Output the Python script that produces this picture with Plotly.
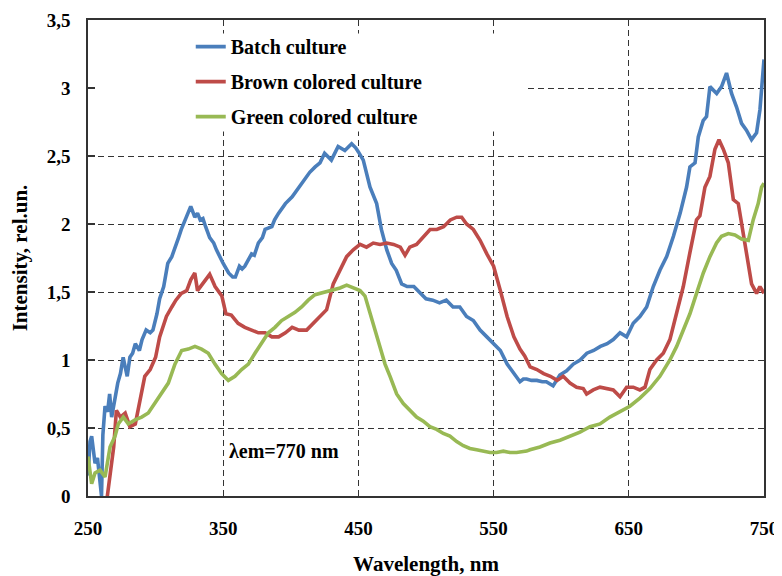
import plotly.graph_objects as go

# ---------------- data ----------------
batch_wl = [250, 251.5, 252.7, 254, 255.2, 257, 258.9, 260, 261, 262.6, 264.5, 266, 267.5, 270, 272, 274, 276, 277.5, 279, 281, 283, 285, 288, 290, 293, 296, 298, 301, 303, 306, 309, 312, 314, 317, 319, 323, 326, 329, 331, 333, 335, 337, 340, 343, 345, 350, 354, 357, 359, 362, 364, 366, 371, 373, 376, 379, 381, 386, 388, 391, 396, 401, 406, 410, 414, 418, 421.6, 425, 430, 435, 440, 445, 448, 450, 453.6, 458.6, 463.5, 467, 471, 474.6, 478, 482, 486, 491, 496, 500, 505, 510, 515, 520, 525, 530, 535, 540, 545, 550, 555, 560, 565, 569.5, 572, 574.4, 578, 582, 586, 589, 594, 597, 599, 604, 609, 614, 619, 624, 629, 634, 638.5, 643.5, 648.4, 653.3, 658.2, 663.2, 668.1, 673, 678, 683, 688, 692.7, 695.2, 699, 701.4, 705, 707.5, 710, 715, 718.6, 722.3, 726, 729.7, 733.4, 737, 740.8, 744.5, 747, 750]
batch_val = [0.15, 0.40, 0.44, 0.30, 0.24, 0.28, 0.12, 0.0, 0.45, 0.66, 0.62, 0.75, 0.58, 0.73, 0.83, 0.90, 1.02, 0.95, 0.88, 1.02, 1.05, 1.12, 1.07, 1.15, 1.22, 1.20, 1.22, 1.34, 1.45, 1.54, 1.71, 1.76, 1.81, 1.90, 1.96, 2.05, 2.13, 2.05, 2.08, 2.03, 2.04, 1.98, 1.90, 1.86, 1.81, 1.71, 1.64, 1.61, 1.61, 1.69, 1.67, 1.69, 1.78, 1.77, 1.86, 1.90, 1.96, 1.98, 2.03, 2.08, 2.15, 2.20, 2.27, 2.32, 2.38, 2.42, 2.45, 2.52, 2.47, 2.57, 2.54, 2.59, 2.56, 2.53, 2.47, 2.27, 2.15, 1.96, 1.81, 1.71, 1.66, 1.56, 1.54, 1.54, 1.49, 1.45, 1.44, 1.42, 1.44, 1.39, 1.39, 1.32, 1.29, 1.22, 1.17, 1.12, 1.07, 0.97, 0.90, 0.84, 0.86, 0.86, 0.85, 0.85, 0.84, 0.84, 0.81, 0.86, 0.89, 0.92, 0.97, 1.00, 1.05, 1.07, 1.10, 1.12, 1.15, 1.20, 1.17, 1.27, 1.32, 1.39, 1.54, 1.66, 1.76, 1.91, 2.08, 2.27, 2.42, 2.45, 2.64, 2.76, 2.79, 3.01, 2.96, 3.01, 3.11, 2.96, 2.86, 2.74, 2.69, 2.62, 2.67, 2.84, 3.21]

brown_wl = [263, 266, 269, 271, 274, 277.5, 281, 285, 288, 292, 296, 300, 303, 308, 312, 315, 319, 323, 326, 329, 331, 335, 340, 344, 349, 352, 356, 361, 366, 371, 376, 381, 386, 391, 396, 401, 406, 411.7, 416.7, 421.6, 426.5, 431.4, 436.4, 441.3, 446.2, 451.2, 456, 461, 466, 471, 476, 481, 484.5, 488, 493, 498, 503, 508, 513, 518, 522.7, 526.4, 530, 535, 540, 545, 550, 555, 560, 565, 569.5, 573, 577, 582, 587, 592, 597, 601.5, 606.5, 611.4, 616.3, 618.8, 623.7, 628.7, 633.6, 638.5, 643.5, 648.4, 653.3, 658.2, 662, 665.6, 670.6, 675.5, 680.4, 685.4, 690.3, 695.2, 700.1, 702.6, 706.3, 710, 713.7, 716.7, 719.9, 723.6, 727.3, 731, 734.7, 738.4, 740.8, 744.5, 747, 750]
brown_val = [-0.1, 0.15, 0.36, 0.63, 0.58, 0.61, 0.51, 0.53, 0.68, 0.88, 0.93, 1.02, 1.17, 1.32, 1.39, 1.44, 1.49, 1.51, 1.59, 1.64, 1.51, 1.56, 1.63, 1.54, 1.47, 1.34, 1.33, 1.27, 1.24, 1.22, 1.20, 1.20, 1.17, 1.17, 1.20, 1.24, 1.22, 1.22, 1.27, 1.32, 1.37, 1.56, 1.66, 1.76, 1.81, 1.85, 1.83, 1.86, 1.85, 1.86, 1.85, 1.83, 1.77, 1.83, 1.85, 1.91, 1.96, 1.96, 1.98, 2.03, 2.05, 2.05, 2.00, 1.96, 1.88, 1.78, 1.69, 1.51, 1.32, 1.17, 1.08, 1.03, 0.95, 0.93, 0.90, 0.88, 0.85, 0.88, 0.83, 0.80, 0.79, 0.75, 0.78, 0.80, 0.79, 0.78, 0.73, 0.80, 0.80, 0.78, 0.80, 0.93, 1.00, 1.05, 1.15, 1.34, 1.54, 1.79, 2.03, 2.06, 2.27, 2.35, 2.55, 2.62, 2.55, 2.45, 2.18, 2.15, 1.93, 1.74, 1.56, 1.49, 1.54, 1.49]

green_wl = [250, 251.5, 252.7, 255.2, 258.9, 262.6, 266.3, 270, 272.4, 276.1, 279.8, 284.8, 289.7, 294.6, 299.5, 304.5, 309.4, 314.3, 319.3, 324.2, 329.1, 334, 339, 343.9, 348.8, 353.8, 358.7, 363.6, 368.6, 373.5, 378.4, 383.4, 388.3, 393.2, 398.1, 403.1, 408, 412.9, 417.9, 421.6, 426.5, 431.4, 436.4, 441.3, 446.2, 451.2, 454.9, 458.6, 462.3, 466, 469.7, 473.4, 478.3, 483.2, 488.1, 493, 498, 502.9, 507.9, 512.8, 517.7, 522.7, 527.6, 532.5, 537.4, 542.4, 547.3, 552.2, 557.2, 562.1, 567, 574.4, 576.9, 584.3, 591.7, 599.1, 606.5, 613.9, 621.3, 628.7, 636, 643.5, 650.8, 658.2, 665.6, 673, 680.4, 685.4, 690.3, 695.2, 700.1, 705.1, 710, 714.9, 718.6, 723.6, 728.5, 733.4, 738.4, 742, 745.7, 748.2, 750]
green_val = [0.29, 0.15, 0.09, 0.17, 0.19, 0.14, 0.36, 0.44, 0.53, 0.58, 0.53, 0.56, 0.58, 0.61, 0.68, 0.75, 0.83, 0.97, 1.07, 1.08, 1.10, 1.08, 1.05, 0.97, 0.90, 0.85, 0.88, 0.93, 0.97, 1.05, 1.12, 1.20, 1.24, 1.29, 1.32, 1.35, 1.39, 1.44, 1.48, 1.49, 1.50, 1.51, 1.53, 1.55, 1.53, 1.51, 1.47, 1.34, 1.22, 1.10, 0.97, 0.88, 0.75, 0.68, 0.63, 0.58, 0.55, 0.51, 0.49, 0.46, 0.44, 0.40, 0.37, 0.35, 0.34, 0.33, 0.32, 0.32, 0.33, 0.32, 0.32, 0.33, 0.34, 0.36, 0.39, 0.41, 0.44, 0.47, 0.51, 0.53, 0.58, 0.62, 0.66, 0.72, 0.79, 0.88, 1.00, 1.10, 1.22, 1.34, 1.49, 1.64, 1.76, 1.86, 1.91, 1.93, 1.92, 1.89, 1.88, 2.03, 2.15, 2.27, 2.30]

series_names = ["Batch culture", "Brown colored culture", "Green colored culture"]
series_colors = ["#4A7EBB", "#BE4B48", "#98B954"]

x_ticks = [250, 350, 450, 550, 650, 750]
x_labels = ["250", "350", "450", "550", "650", "750"]
y_ticks = [0, 0.5, 1, 1.5, 2, 2.5, 3, 3.5]
y_labels = ["0", "0,5", "1", "1,5", "2", "2,5", "3", "3,5"]

FONT = "Liberation Serif, Times New Roman, serif"

fig = go.Figure()
for i, (wl, val) in enumerate([(batch_wl, batch_val), (brown_wl, brown_val), (green_wl, green_val)]):
    fig.add_trace(go.Scatter(
        x=wl, y=val, mode="lines", name=series_names[i],
        legendgroup=f"g{i}",
        line=dict(color=series_colors[i], width=3.6),
    ))

# white panel behind legend, hiding the grid there
fig.add_shape(type="rect", xref="x", yref="y", x0=255, x1=574.5, y0=2.68, y1=3.40,
              fillcolor="white", line=dict(width=0), layer="between")

fig.add_annotation(x=353, y=0.33, xref="x", yref="y", text="λem=770 nm", showarrow=False,
                   xanchor="left", yanchor="middle",
                   font=dict(family=FONT, size=20, color="black", weight="bold"))

axis_common = dict(
    showline=True, mirror=True, linecolor="#333333", linewidth=1.5,
    showgrid=True, gridcolor="#333333", gridwidth=1.2, griddash="6px,4px",
    zeroline=False,
    tickfont=dict(family=FONT, size=19, color="black", weight="bold"),
)

fig.update_xaxes(range=[250, 750], tickvals=x_ticks, ticktext=x_labels,
                 ticks="", ticklabelstandoff=14,
                 title=dict(text="Wavelength, nm", standoff=27,
                            font=dict(family=FONT, size=21, color="black", weight="bold")),
                 **axis_common)
fig.update_yaxes(range=[0, 3.5], tickvals=y_ticks, ticktext=y_labels,
                 ticks="inside", ticklen=7, tickcolor="#333333", tickwidth=1.5,
                 ticklabelstandoff=12,
                 title=dict(text="Intensity, rel.un.", standoff=16,
                            font=dict(family=FONT, size=21, color="black", weight="bold")),
                 **axis_common)

fig.update_layout(
    width=774, height=568,
    margin=dict(l=80, r=18, t=12, b=80, autoexpand=False),
    paper_bgcolor="white", plot_bgcolor="white",
    legend=dict(x=0.152, y=0.985, xanchor="left", yanchor="top",
                bgcolor="rgba(0,0,0,0)", tracegroupgap=6,
                font=dict(family=FONT, size=20, color="black", weight="bold")),
    showlegend=True,
)

fig.write_html("out.html")
